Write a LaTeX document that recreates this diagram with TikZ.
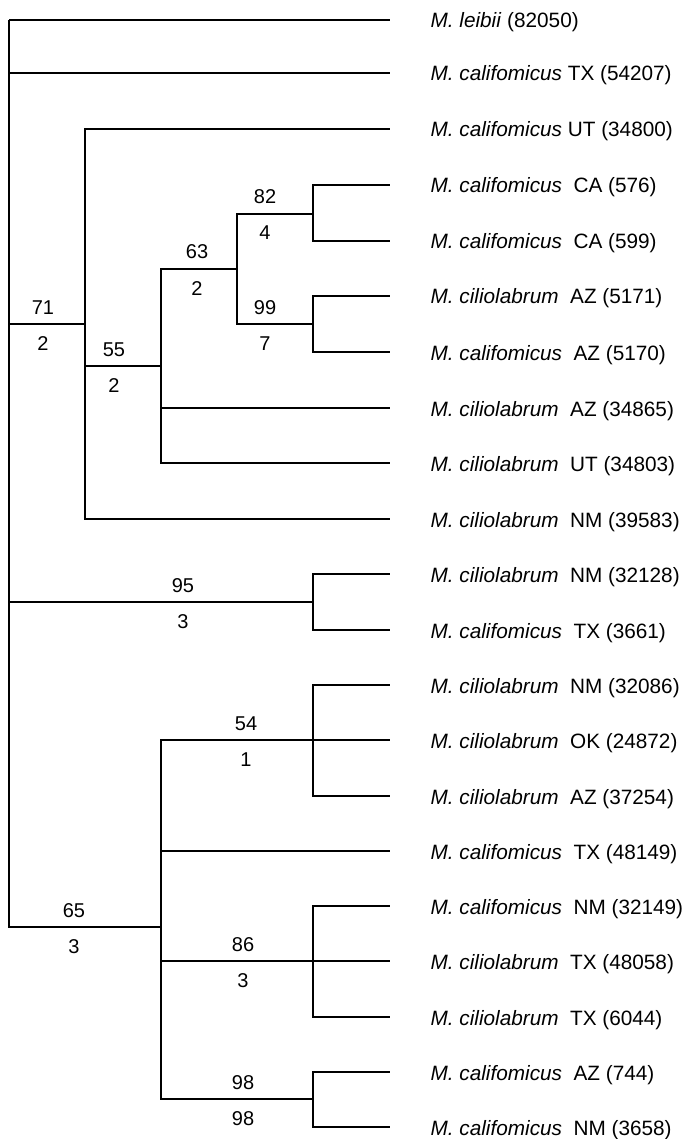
\documentclass[tikz,border=0pt]{standalone}
\usepackage{fontspec}
\setmainfont{Liberation Sans}

\begin{document}
\begin{tikzpicture}[x=1pt, y=-1pt, line width=1.3pt,
  taxon/.style={anchor=base west, inner sep=0pt, yshift=-8pt, font=\fontsize{20.75}{24}\selectfont},
  supp/.style={anchor=base, inner sep=0pt, yshift=10pt, font=\fontsize{20}{24}\selectfont},
  decay/.style={anchor=base, inner sep=0pt, yshift=-26pt, font=\fontsize{20}{24}\selectfont}]
  \useasboundingbox (0,0) rectangle (681,1139);
  \coordinate (R) at (9,20);
  \coordinate (n71) at (85,324);
  \coordinate (n55) at (161,366);
  \coordinate (n63) at (237,269);
  \coordinate (n82) at (313,214);
  \coordinate (n99) at (313,324);
  \coordinate (n95) at (313,602);
  \coordinate (n65) at (161,927);
  \coordinate (n54) at (313,740);
  \coordinate (n86) at (313,961);
  \coordinate (n98) at (313,1099);
  \coordinate (t1) at (390,20);
  \coordinate (t2) at (390,73);
  \coordinate (t3) at (390,129);
  \coordinate (t4) at (390,185);
  \coordinate (t5) at (390,241);
  \coordinate (t6) at (390,296);
  \coordinate (t7) at (390,352);
  \coordinate (t8) at (390,408);
  \coordinate (t9) at (390,463);
  \coordinate (t10) at (390,519);
  \coordinate (t11) at (390,574);
  \coordinate (t12) at (390,630);
  \coordinate (t13) at (390,685);
  \coordinate (t14) at (390,740);
  \coordinate (t15) at (390,796);
  \coordinate (t16) at (390,851);
  \coordinate (t17) at (390,906);
  \coordinate (t18) at (390,961);
  \coordinate (t19) at (390,1017);
  \coordinate (t20) at (390,1072);
  \coordinate (t21) at (390,1127);
  \draw (R) |- (t1);
  \draw (R) |- (t2);
  \draw (R) |- (n71);
  \draw (R) |- (n95);
  \draw (R) |- (n65);
  \draw (n71) |- (t3);
  \draw (n71) |- (n55);
  \draw (n71) |- (t10);
  \draw (n55) |- (n63);
  \draw (n55) |- (t8);
  \draw (n55) |- (t9);
  \draw (n63) |- (n82);
  \draw (n63) |- (n99);
  \draw (n82) |- (t4);
  \draw (n82) |- (t5);
  \draw (n99) |- (t6);
  \draw (n99) |- (t7);
  \draw (n95) |- (t11);
  \draw (n95) |- (t12);
  \draw (n65) |- (n54);
  \draw (n65) |- (t16);
  \draw (n65) |- (n86);
  \draw (n65) |- (n98);
  \draw (n54) |- (t13);
  \draw (n54) |- (t14);
  \draw (n54) |- (t15);
  \draw (n86) |- (t17);
  \draw (n86) |- (t18);
  \draw (n86) |- (t19);
  \draw (n98) |- (t20);
  \draw (n98) |- (t21);
  \node[taxon] (L1) at (430,20) {\textit{M. leibii} (82050)};
  \node[taxon] (L2) at (430,73) {\textit{M. califomicus} TX (54207)};
  \node[taxon] (L3) at (430,129) {\textit{M. califomicus} UT (34800)};
  \node[taxon] (L4) at (430,185) {\textit{M. califomicus}\ \ CA (576)};
  \node[taxon] (L5) at (430,241) {\textit{M. califomicus}\ \ CA (599)};
  \node[taxon] (L6) at (430,296) {\textit{M. ciliolabrum}\ \ AZ (5171)};
  \node[taxon] (L7) at (430,352) {\textit{M. califomicus}\ \ AZ (5170)};
  \node[taxon] (L8) at (430,408) {\textit{M. ciliolabrum}\ \ AZ (34865)};
  \node[taxon] (L9) at (430,463) {\textit{M. ciliolabrum}\ \ UT (34803)};
  \node[taxon] (L10) at (430,519) {\textit{M. ciliolabrum}\ \ NM (39583)};
  \node[taxon] (L11) at (430,574) {\textit{M. ciliolabrum}\ \ NM (32128)};
  \node[taxon] (L12) at (430,630) {\textit{M. califomicus}\ \ TX (3661)};
  \node[taxon] (L13) at (430,685) {\textit{M. ciliolabrum}\ \ NM (32086)};
  \node[taxon] (L14) at (430,740) {\textit{M. ciliolabrum}\ \ OK (24872)};
  \node[taxon] (L15) at (430,796) {\textit{M. ciliolabrum}\ \ AZ (37254)};
  \node[taxon] (L16) at (430,851) {\textit{M. califomicus}\ \ TX (48149)};
  \node[taxon] (L17) at (430,906) {\textit{M. califomicus}\ \ NM (32149)};
  \node[taxon] (L18) at (430,961) {\textit{M. ciliolabrum}\ \ TX (48058)};
  \node[taxon] (L19) at (430,1017) {\textit{M. ciliolabrum}\ \ TX (6044)};
  \node[taxon] (L20) at (430,1072) {\textit{M. califomicus}\ \ AZ (744)};
  \node[taxon] (L21) at (430,1127) {\textit{M. califomicus}\ \ NM (3658)};
  \node[supp] (s71) at (43,324) {71};
  \node[decay] (d71) at (43,324) {2};
  \node[supp] (s55) at (114,366) {55};
  \node[decay] (d55) at (114,366) {2};
  \node[supp] (s63) at (197,269) {63};
  \node[decay] (d63) at (197,269) {2};
  \node[supp] (s82) at (265,214) {82};
  \node[decay] (d82) at (265,214) {4};
  \node[supp] (s99) at (265,324) {99};
  \node[decay] (d99) at (265,324) {7};
  \node[supp] (s95) at (183,602) {95};
  \node[decay] (d95) at (183,602) {3};
  \node[supp] (s54) at (246,740) {54};
  \node[decay] (d54) at (246,740) {1};
  \node[supp] (s65) at (74,927) {65};
  \node[decay] (d65) at (74,927) {3};
  \node[supp] (s86) at (243,961) {86};
  \node[decay] (d86) at (243,961) {3};
  \node[supp] (s98) at (243,1099) {98};
  \node[decay] (d98) at (243,1099) {98};
\end{tikzpicture}
\end{document}
